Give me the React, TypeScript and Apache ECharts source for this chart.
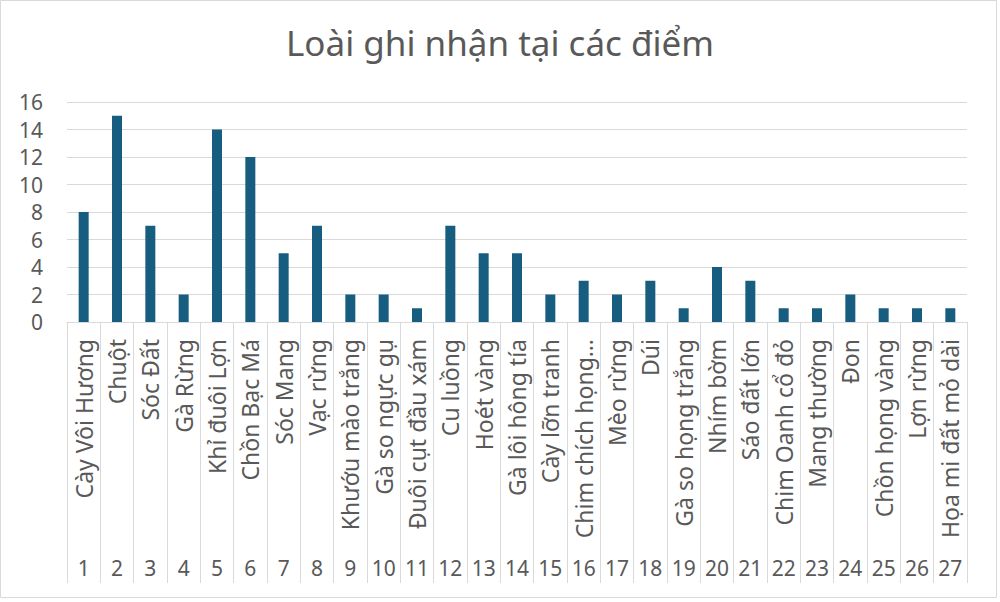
import React, { useEffect, useRef } from "react";
import * as echarts from "echarts";

const title = "Loài ghi nhận tại các điểm";
const speciesNames = [
  "Cày Vôi Hương", "Chuột", "Sóc Đất", "Gà Rừng", "Khỉ đuôi Lợn", "Chồn Bạc Má",
  "Sóc Mang", "Vạc rừng", "Khướu mào trắng", "Gà so ngực gụ", "Đuôi cụt đầu xám",
  "Cu luồng", "Hoét vàng", "Gà lôi hông tía", "Cày lỡn tranh", "Chim chích họng…",
  "Mèo rừng", "Dúi", "Gà so họng trắng", "Nhím bờm", "Sáo đất lớn", "Chim Oanh cổ đỏ",
  "Mang thường", "Đon", "Chồn họng vàng", "Lợn rừng", "Họa mi đất mỏ dài",
];
const pointNumbers = [
  "1", "2", "3", "4", "5", "6", "7", "8", "9", "10", "11", "12", "13", "14",
  "15", "16", "17", "18", "19", "20", "21", "22", "23", "24", "25", "26", "27",
];
const counts = [8, 15, 7, 2, 14, 12, 5, 7, 2, 2, 1, 7, 5, 5, 2, 3, 2, 3, 1, 4, 3, 1, 1, 2, 1, 1, 1];

const FONT = "Noto Sans, Liberation Sans, sans-serif";
const TEXT = "#595959";
const LINE = "#d9d9d9";

export default function App() {
  const ref = useRef<HTMLDivElement>(null);
  useEffect(() => {
    if (!ref.current) return;
    const chart = echarts.init(ref.current, null, { renderer: "svg" });
    chart.setOption({
      animation: false,
      backgroundColor: "#ffffff",
      textStyle: { fontFamily: FONT },
      title: {
        text: title,
        left: "center",
        top: 20,
        textStyle: { fontFamily: FONT, fontSize: 35, fontWeight: "normal", color: TEXT },
      },
      graphic: [
        {
          type: "rect",
          shape: { x: 0.5, y: 0.5, width: 996, height: 597 },
          style: { fill: "none", stroke: LINE, lineWidth: 1 },
          silent: true,
        },
      ],
      grid: { left: 67, right: 33, top: 102, bottom: 280, containLabel: false },
      xAxis: [
        {
          type: "category",
          data: speciesNames,
          position: "bottom",
          axisLine: { show: true, lineStyle: { color: LINE } },
          axisTick: { show: true, interval: 0, length: 261, lineStyle: { color: LINE } },
          axisLabel: {
            interval: 0,
            rotate: 90,
            margin: 17,
            fontSize: 23,
            color: TEXT,
            fontFamily: FONT,
          },
        },
        {
          type: "category",
          data: pointNumbers,
          position: "bottom",
          offset: 232,
          axisLine: { show: false },
          axisTick: { show: false },
          axisLabel: { interval: 0, margin: 3, fontSize: 21, color: TEXT, fontFamily: FONT },
        },
      ],
      yAxis: {
        type: "value",
        min: 0,
        max: 16,
        interval: 2,
        axisLine: { show: false },
        axisTick: { show: false },
        splitLine: { lineStyle: { color: LINE, width: 1 } },
        axisLabel: { fontSize: 21, color: TEXT, margin: 24, fontFamily: FONT },
      },
      series: [
        {
          type: "bar",
          data: counts,
          xAxisIndex: 0,
          barWidth: "30%",
          itemStyle: { color: "#175d80" },
        },
      ],
    });
    return () => chart.dispose();
  }, []);
  return (
    <div
      ref={ref}
      style={{ position: "fixed", left: 0, top: 0, width: 1000, height: 602 }}
    />
  );
}
